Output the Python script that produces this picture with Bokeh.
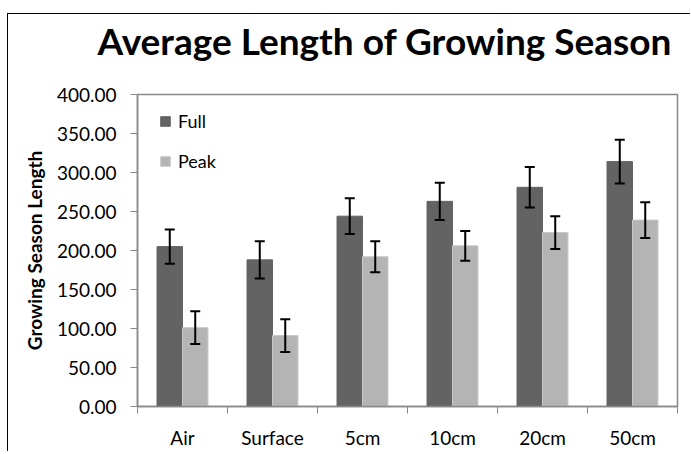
import numpy as np
from bokeh.plotting import figure
from bokeh.models import ColumnDataSource, FixedTicker, Whisker, TeeHead, Legend, LegendItem, Label
from bokeh.embed import file_html
from bokeh.resources import INLINE

# Growing season data
categories = ["Air", "Surface", "5cm", "10cm", "20cm", "50cm"]
full_mean = [205, 188, 244, 263, 281, 314]
full_err = [22, 24, 23, 24, 26, 28]
peak_mean = [101, 91, 192, 206, 223, 239]
peak_err = [21, 21, 20, 19, 21, 23]
y_ticks = [0, 50, 100, 150, 200, 250, 300, 350, 400]

FONT = "Lato"
FULL_COLOR = "#636363"
PEAK_COLOR = "#b4b4b4"
AXIS_GRAY = "#888888"

idx = np.arange(len(categories))
bar_w = 0.283
full = ColumnDataSource(dict(x=idx + 0.5 - bar_w / 2, top=full_mean,
                             upper=np.array(full_mean) + np.array(full_err),
                             lower=np.array(full_mean) - np.array(full_err)))
peak = ColumnDataSource(dict(x=idx + 0.5 + bar_w / 2, top=peak_mean,
                             upper=np.array(peak_mean) + np.array(peak_err),
                             lower=np.array(peak_mean) - np.array(peak_err)))

p = figure(width=683, height=438, x_range=(0, len(categories)), y_range=(0, 400),
           output_backend="svg", toolbar_location=None,
           min_border_left=129, min_border_right=14, min_border_top=80, min_border_bottom=46)
p.styles = {"border-left": "1px solid #000", "border-top": "1px solid #000",
            "margin-top": "13px", "margin-left": "7px"}

# chart title, in the panel above the plot area
p.add_layout(Label(x=-40, y=54, x_units="screen", y_units="screen",
                   text="Average Length of Growing Season", text_font=FONT, text_font_size="37px",
                   text_font_style="bold", text_color="black",
                   text_align="left", text_baseline="middle"), "above")

p.grid.visible = False
p.outline_line_color = AXIS_GRAY
p.outline_line_width = 1.5

r_full = p.vbar(x="x", top="top", width=bar_w, source=full, fill_color=FULL_COLOR, line_color=FULL_COLOR)
r_peak = p.vbar(x="x", top="top", width=bar_w, source=peak, fill_color=PEAK_COLOR, line_color="#c8c8c8")

for src in (full, peak):
    p.add_layout(Whisker(source=src, base="x", upper="upper", lower="lower", level="overlay",
                         line_color="black", line_width=2,
                         upper_head=TeeHead(size=10, line_width=2, line_color="black"),
                         lower_head=TeeHead(size=10, line_width=2, line_color="black")))

# x axis: labels at category centres, ticks at category boundaries
p.xaxis.ticker = FixedTicker(ticks=list(idx + 0.5), minor_ticks=list(range(len(categories) + 1)))
p.xaxis.major_label_overrides = {float(i + 0.5): c for i, c in enumerate(categories)}
p.xaxis.major_tick_line_color = None
p.xaxis.minor_tick_line_color = AXIS_GRAY
p.xaxis.minor_tick_out = 7
p.xaxis.minor_tick_in = 0
p.xaxis.major_label_standoff = 12

p.yaxis.ticker = FixedTicker(ticks=y_ticks)
p.yaxis.major_label_overrides = {t: "%.2f" % t for t in y_ticks}
p.yaxis.minor_tick_line_color = None
p.yaxis.major_tick_out = 7
p.yaxis.major_tick_in = 0
p.yaxis.major_tick_line_color = AXIS_GRAY
p.yaxis.major_label_standoff = 14
p.yaxis.axis_label = "Growing Season Length"
p.yaxis.axis_label_text_font = FONT
p.yaxis.axis_label_text_font_style = "bold"
p.yaxis.axis_label_text_font_size = "19px"
p.yaxis.axis_label_text_color = "black"
p.yaxis.axis_label_standoff = 8

for ax in (p.xaxis, p.yaxis):
    ax.axis_line_color = AXIS_GRAY
    ax.axis_line_width = 1.5
    ax.major_label_text_font = FONT
    ax.major_label_text_font_size = "19px"
    ax.major_label_text_color = "black"

legend = Legend(items=[LegendItem(label="Full", renderers=[r_full]),
                       LegendItem(label="Peak", renderers=[r_peak])],
                location=(22, 234), orientation="vertical",
                border_line_color=None, background_fill_alpha=0,
                padding=0, margin=0, spacing=18,
                glyph_width=12, glyph_height=12, label_height=22, label_standoff=7,
                label_text_font=FONT, label_text_font_size="18px", label_text_color="black")
p.add_layout(legend)

open("out.html", "w").write(file_html(p, INLINE))
